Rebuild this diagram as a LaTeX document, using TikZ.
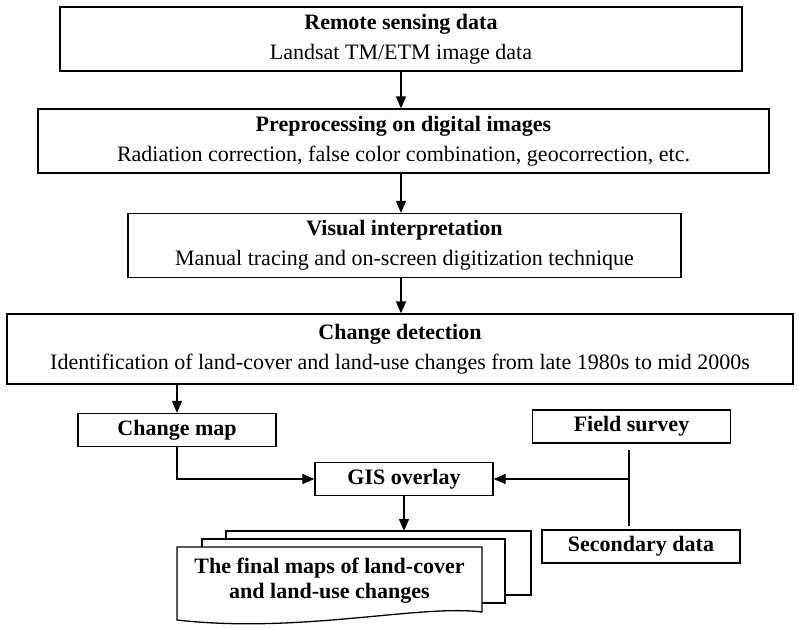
\documentclass[tikz,border=0pt]{standalone}
\usepackage{fontspec}
\setmainfont{Liberation Serif}
\usetikzlibrary{positioning, arrows.meta, calc}

\begin{document}
\begin{tikzpicture}[x=0.5pt, y=-0.5pt,
  procb/.style={draw, line width=0.65pt, minimum height=32pt, align=center,
                font=\fontsize{11}{15}\selectfont, inner sep=0pt},
  datab/.style={draw, line width=0.65pt, minimum width=99pt, minimum height=16.5pt,
                font=\fontsize{11}{13}\selectfont\bfseries, inner sep=0pt},
  page/.style={draw, fill=white, line width=0.65pt},
  arr/.style={-{Triangle[length=6pt, width=5pt]}, line width=0.75pt},
  lnk/.style={line width=0.75pt},
]
\useasboundingbox (0,0) rectangle (799,628);

% Main processing chain
\node[procb, minimum width=341pt] (rs) at (401, 39)
  {\textbf{Remote sensing data}\\Landsat TM/ETM image data};
\node[procb, minimum width=365.5pt] (pre) at (403.5, 141)
  {\textbf{Preprocessing on digital images}\\Radiation correction, false color combination, geocorrection, etc.};
\node[procb, minimum width=276.5pt] (vis) at (404.5, 245.5)
  {\textbf{Visual interpretation}\\Manual tracing and on-screen digitization technique};
\node[procb, minimum width=393pt, minimum height=35pt] (chg) at (400, 349)
  {\textbf{Change detection}\\Identification of land-cover and land-use changes from late 1980s to mid 2000s};

\draw[arr] (rs.south) -- (rs.south |- pre.north);
\draw[arr] (pre.south -| rs.south) -- (vis.north -| rs.south);
\draw[arr] (vis.south -| rs.south) -- (chg.north -| rs.south);

% Overlay inputs
\node[datab] (chm) at (177, 430) {Change map};
\node[datab] (fs)  at (631.5, 426.5) {Field survey};
\node[datab, minimum width=89pt] (gis) at (404, 479) {GIS overlay};
\node[datab] (sd)  at (641, 546.5) {Secondary data};

\draw[arr] (chg.south -| chm.north) -- (chm.north);
\draw[arr] (chm.south) |- (gis.west);

\coordinate (fsend) at ([xshift=-1.25pt, yshift=-3pt]fs.south);
\coordinate (sdend) at ($(fsend |- sd.north)+(0,-3)$);
\draw[lnk] (fsend) -- (sdend);
\draw[arr] (fsend |- gis.east) -- (gis.east);

% Final maps (stacked pages)
\draw[page] (226,531) rectangle (531,595);
\draw[page] (202,539) rectangle (505,603);
\draw[page] (177,547) -- (482,547) -- (482,612)
  .. controls (420,604) and (300,634) .. (177,620) -- cycle;
\node[font=\fontsize{11}{12.5}\selectfont\bfseries, align=center] (fm) at (329.5, 581)
  {The final maps of land-cover\\and land-use changes};

\coordinate (pgtop) at (0,531);
\draw[arr] (gis.south) -- (gis.south |- pgtop);
\end{tikzpicture}
\end{document}
